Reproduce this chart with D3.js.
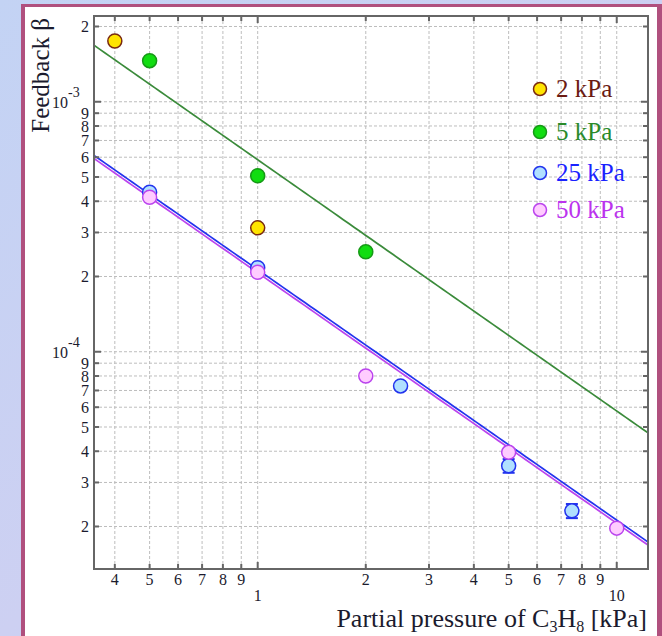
<!DOCTYPE html>
<html>
<head>
<meta charset="utf-8">
<script src="https://cdn.jsdelivr.net/npm/d3@7"></script>
<style>
  html, body { margin: 0; padding: 0; background: #c9d5f2; }
  svg { display: block; }
</style>
</head>
<body>
<svg id="chart" width="662" height="636"></svg>
<script>
// Measured feedback coefficient vs. propane partial pressure, for four total pressures
const series = ["2 kPa", "5 kPa", "25 kPa", "50 kPa"];
const pressure2 = [0.4, 1];
const beta2 = [1.75e-3, 3.13e-4];
const pressure5 = [0.5, 1, 2];
const beta5 = [1.46e-3, 5.06e-4, 2.51e-4];
const pressure25 = [0.5, 1, 2.5, 5, 7.5];
const beta25 = [4.35e-4, 2.17e-4, 7.3e-5, 3.5e-5, 2.31e-5];
const err25 = [0, 0, 0, 2.2e-6, 1.5e-6];
const pressure50 = [0.5, 1, 2, 5, 10];
const beta50 = [4.15e-4, 2.08e-4, 8.0e-5, 3.96e-5, 1.97e-5];

// Power-law fits beta = a * p^b
const fitSeries = ["5 kPa", "25 kPa", "50 kPa"];
const fitA = [5.86e-4, 2.13e-4, 2.07e-4];
const fitB = [-1.005, -1.002, -1.002];

const xTicks = [0.4, 0.5, 0.6, 0.7, 0.8, 0.9, 1, 2, 3, 4, 5, 6, 7, 8, 9, 10];
const xTickLabels = ["4", "5", "6", "7", "8", "9", "1", "2", "3", "4", "5", "6", "7", "8", "9", "10"];
const yTicks = [2e-5, 3e-5, 4e-5, 5e-5, 6e-5, 7e-5, 8e-5, 9e-5,
                1e-4, 2e-4, 3e-4, 4e-4, 5e-4, 6e-4, 7e-4, 8e-4, 9e-4, 1e-3, 2e-3];
const yTickLabels = ["2", "3", "4", "5", "6", "7", "8", "9",
                     "", "2", "3", "4", "5", "6", "7", "8", "9", "", "2"];
const yDecades = [1e-3, 1e-4];
const yDecadeExp = ["-3", "-4"];

const styles = {
  "2 kPa":  { fill: "#ffe400", stroke: "#7a2a10", text: "#6b1a12" },
  "5 kPa":  { fill: "#11dd11", stroke: "#169a16", text: "#2a8a2a", line: "#3b8b3b" },
  "25 kPa": { fill: "#b0e0ff", stroke: "#2233ee", text: "#1a22ff", line: "#2233ee" },
  "50 kPa": { fill: "#ffccff", stroke: "#bb44ee", text: "#bb33ee", line: "#bb44ee" }
};

const svg = d3.select("#chart");
const W = 662, H = 636;
const serif = "'Liberation Serif', 'DejaVu Serif', serif";

// Backdrop and framed panel
const defs = svg.append("defs");
const bg = defs.append("linearGradient").attr("id", "bg").attr("x1", 0).attr("y1", 0).attr("x2", 1).attr("y2", 1);
bg.append("stop").attr("offset", "0%").attr("stop-color", "#c3d3f4");
bg.append("stop").attr("offset", "50%").attr("stop-color", "#cdd0f2");
bg.append("stop").attr("offset", "100%").attr("stop-color", "#bcd2f5");
svg.append("rect").attr("width", W).attr("height", H).attr("fill", "url(#bg)");
svg.append("rect").attr("x", 21).attr("y", 4).attr("width", 641).attr("height", 660).attr("fill", "#b0507e");
svg.append("rect").attr("x", 25).attr("y", 7).attr("width", 632).attr("height", 660).attr("fill", "#ffffff");

const L = 94, R = 648, T = 16, B = 569;
const x = d3.scaleLog().domain([0.35, 12.22]).range([L, R]);
const y = d3.scaleLog().domain([1.352e-5, 2.203e-3]).range([B, T]);

// Dashed grid at every tick
const grid = svg.append("g").attr("stroke", "#bdbdbd").attr("stroke-width", 1).attr("stroke-dasharray", "3,2");
grid.selectAll("line.gx").data(xTicks).join("line")
  .attr("x1", d => x(d)).attr("x2", d => x(d)).attr("y1", T).attr("y2", B);
grid.selectAll("line.gy").data(yTicks).join("line")
  .attr("x1", L).attr("x2", R).attr("y1", d => y(d)).attr("y2", d => y(d));

// Fit lines
const lineGen = d3.line().x(d => x(d[0])).y(d => y(d[1]));
const clip = defs.append("clipPath").attr("id", "plotclip");
clip.append("rect").attr("x", L).attr("y", T).attr("width", R - L).attr("height", B - T);
const lines = svg.append("g").attr("clip-path", "url(#plotclip)");
fitSeries.forEach((s, i) => {
  const pts = d3.range(0, 101).map(k => {
    const p = 0.35 * Math.pow(12.22 / 0.35, k / 100);
    return [p, fitA[i] * Math.pow(p, fitB[i])];
  });
  lines.append("path").attr("d", lineGen(pts)).attr("fill", "none")
    .attr("stroke", styles[s].line).attr("stroke-width", 1.7);
});

// Axes frame with inward ticks on all four sides
const axisColor = "#666666";
const axes = svg.append("g");
function isMajor(v) { return Math.abs(Math.log10(v) - Math.round(Math.log10(v))) < 1e-9; }
const tk = axes.append("g").attr("stroke", axisColor).attr("stroke-width", 2);
xTicks.forEach(v => {
  const len = isMajor(v) ? 7 : 5;
  tk.append("line").attr("x1", x(v)).attr("x2", x(v)).attr("y1", B).attr("y2", B - len);
  tk.append("line").attr("x1", x(v)).attr("x2", x(v)).attr("y1", T).attr("y2", T + len);
});
yTicks.forEach(v => {
  const len = isMajor(v) ? 7 : 5;
  tk.append("line").attr("y1", y(v)).attr("y2", y(v)).attr("x1", L).attr("x2", L + len);
  tk.append("line").attr("y1", y(v)).attr("y2", y(v)).attr("x1", R).attr("x2", R - len);
});
axes.append("rect").attr("x", L).attr("y", T).attr("width", R - L).attr("height", B - T)
  .attr("fill", "none").attr("stroke", axisColor).attr("stroke-width", 2);

// Tick labels
const labels = svg.append("g").attr("font-family", serif).attr("font-size", 16).attr("fill", "#1b1b2e");
xTicks.forEach((v, i) => {
  labels.append("text").attr("x", x(v)).attr("y", isMajor(v) ? 601 : 585)
    .attr("text-anchor", "middle").text(xTickLabels[i]);
});
yTicks.forEach((v, i) => {
  if (!yTickLabels[i]) return;
  labels.append("text").attr("x", 89).attr("y", y(v)).attr("dy", "0.35em")
    .attr("text-anchor", "end").text(yTickLabels[i]);
});
yDecades.forEach((v, i) => {
  const t = labels.append("text").attr("x", 52).attr("y", y(v) + 6);
  t.append("tspan").text("10");
  t.append("tspan").attr("font-size", 14).attr("dy", -11).text(yDecadeExp[i]);
});

// Markers with error bars
function drawSeries(name, px, py, pe) {
  const st = styles[name];
  const g = svg.append("g");
  px.forEach((p, i) => {
    const e = pe ? pe[i] : 0;
    if (e > 0) {
      const cx = x(p);
      g.append("line").attr("x1", cx).attr("x2", cx).attr("y1", y(py[i] - e)).attr("y2", y(py[i] + e))
        .attr("stroke", st.stroke).attr("stroke-width", 1.5);
      [py[i] - e, py[i] + e].forEach(v => g.append("line").attr("x1", cx - 6).attr("x2", cx + 6)
        .attr("y1", y(v)).attr("y2", y(v)).attr("stroke", st.stroke).attr("stroke-width", 2));
    }
    g.append("circle").attr("cx", x(p)).attr("cy", y(py[i])).attr("r", 7)
      .attr("fill", st.fill).attr("stroke", st.stroke).attr("stroke-width", 1.5);
  });
}
drawSeries("2 kPa", pressure2, beta2);
drawSeries("5 kPa", pressure5, beta5);
drawSeries("25 kPa", pressure25, beta25, err25);
drawSeries("50 kPa", pressure50, beta50);

// Legend
const legendY = [89, 132, 173, 210];
const lg = svg.append("g").attr("font-family", serif).attr("font-size", 25);
series.forEach((s, i) => {
  const st = styles[s];
  lg.append("circle").attr("cx", 540).attr("cy", legendY[i]).attr("r", 6.5)
    .attr("fill", st.fill).attr("stroke", st.stroke).attr("stroke-width", 1.5);
  lg.append("text").attr("x", 556).attr("y", legendY[i] + 8).attr("fill", st.text).text(s);
});

// Axis titles
const xt = svg.append("text").attr("font-family", serif).attr("font-size", 26).attr("fill", "#1b1b2e")
  .attr("x", 647).attr("y", 627).attr("text-anchor", "end");
xt.append("tspan").text("Partial pressure of C");
xt.append("tspan").attr("font-size", 16).attr("dy", 5).text("3");
xt.append("tspan").attr("dy", -5).text("H");
xt.append("tspan").attr("font-size", 16).attr("dy", 5).text("8");
xt.append("tspan").attr("dy", -5).text(" [kPa]");

svg.append("text").attr("font-family", serif).attr("font-size", 25).attr("fill", "#1b1b2e")
  .attr("transform", "translate(49,18) rotate(-90)").attr("text-anchor", "end")
  .text("Feedback β");
</script>
</body>
</html>
